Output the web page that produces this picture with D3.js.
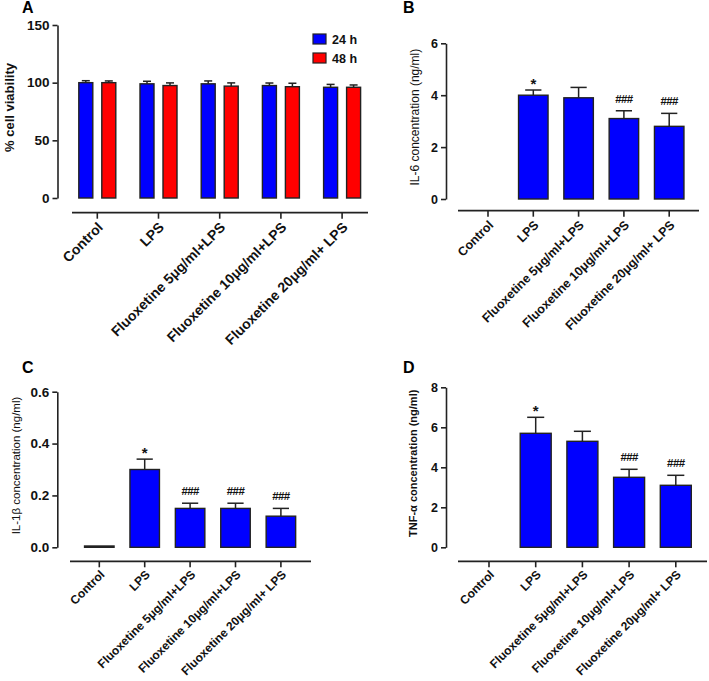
<!DOCTYPE html>
<html>
<head>
<meta charset="utf-8">
<script src="https://cdn.jsdelivr.net/npm/d3@7"></script>
<style>
  body { margin: 0; background: #fff; }
  svg { display: block; font-family: "Liberation Sans", Arial, sans-serif; }
</style>
</head>
<body>
<script>
// data
const categories = ["Control", "LPS", "Fluoxetine 5μg/ml+LPS", "Fluoxetine 10μg/ml+LPS", "Fluoxetine 20μg/ml+ LPS"];
const seriesA = ["24 h", "48 h"];
const viability24 = [100, 99, 99, 97.5, 96];
const viability24Err = [1.7, 2.2, 2.5, 2.2, 2.5];
const viability48 = [100, 97.5, 97, 96.5, 96];
const viability48Err = [1.5, 2.3, 2.8, 3.0, 2.0];
const il6 = [0, 4.0, 3.9, 3.1, 2.8];
const il6Err = [0, 0.2, 0.4, 0.3, 0.5];
const il6Marks = ["", "*", "", "###", "###"];
const il1b = [0.005, 0.30, 0.15, 0.15, 0.12];
const il1bErr = [0, 0.04, 0.02, 0.02, 0.03];
const il1bMarks = ["", "*", "###", "###", "###"];
const tnf = [0, 5.7, 5.3, 3.5, 3.1];
const tnfErr = [0, 0.8, 0.5, 0.4, 0.5];
const tnfMarks = ["", "*", "", "###", "###"];
const ticksA = [0, 50, 100, 150];
const ticksB = [0, 2, 4, 6];
const ticksC = [0, 0.2, 0.4, 0.6];
const ticksD = [0, 2, 4, 6, 8];

const COLORS = {"24 h": "#0000ff", "48 h": "#ff0000"};
const INK = "#222";

const svg = d3.select("body").append("svg")
    .attr("width", 709)
    .attr("height", 681);

svg.append("rect").attr("width", 709).attr("height", 681).attr("fill", "#fff");

const panel = (p) => {
    const g = svg.append("g");
    const x = d3.scaleBand().domain(categories).range(p.xRange);
    const y = d3.scaleLinear().domain([0, d3.max(p.ticks)]).range(p.yRange);

    // panel letter
    g.append("text")
        .attr("x", p.letterPos[0]).attr("y", p.letterPos[1])
        .attr("font-size", 16).attr("font-weight", "bold")
        .text(p.letter);

    // y axis
    const ya = g.append("g")
        .attr("transform", `translate(${p.yAxisX},0)`)
        .call(d3.axisLeft(y).tickValues(p.ticks).tickFormat(p.fmt).tickSize(5).tickSizeOuter(0));
    ya.selectAll("path, line").attr("stroke", INK).attr("stroke-width", 1.6);
    ya.selectAll("text")
        .attr("font-family", null)
        .attr("font-size", p.tickFont)
        .attr("font-weight", "bold")
        .attr("fill", "#111");

    g.append("text")
        .attr("transform", `translate(${p.yTitleX},${(p.yRange[0] + p.yRange[1]) / 2 - 4}) rotate(-90)`)
        .attr("text-anchor", "middle")
        .attr("font-size", p.yTitleFont)
        .attr("font-weight", p.yTitleBold ? "bold" : "normal")
        .attr("fill", "#111")
        .text(p.yTitle);

    // x axis (detached, GraphPad style)
    const xa = g.append("g")
        .attr("transform", `translate(0,${p.xAxisY})`)
        .call(d3.axisBottom(x).tickSize(6).tickSizeOuter(0));
    xa.select(".domain").remove();
    xa.append("line")
        .attr("x1", p.xLine[0]).attr("x2", p.xLine[1])
        .attr("stroke", INK).attr("stroke-width", 1.8);
    xa.selectAll(".tick line").attr("stroke", INK).attr("stroke-width", 1.6);
    xa.selectAll(".tick text")
        .attr("font-family", null)
        .attr("font-size", p.xFont)
        .attr("font-weight", "bold")
        .attr("fill", "#111")
        .attr("text-anchor", "end")
        .attr("y", 0).attr("dy", "0.35em")
        .attr("transform", `translate(3,${p.xLabelDrop}) rotate(-45)`);

    return {g, x, y};
};

const errorBars = (g, cx, y, v, e, cap) => {
    if (!(e > 0)) return;
    g.append("line")
        .attr("x1", cx).attr("x2", cx)
        .attr("y1", y(v)).attr("y2", y(v + e))
        .attr("stroke", INK).attr("stroke-width", 1.5);
    g.append("line")
        .attr("x1", cx - cap / 2).attr("x2", cx + cap / 2)
        .attr("y1", y(v + e)).attr("y2", y(v + e))
        .attr("stroke", INK).attr("stroke-width", 1.5);
};

/**
 * Panel A - grouped viability bars
 */
const drawA = () => {
    const {g, x, y} = panel({
        letter: "A", letterPos: [22, 13],
        ticks: ticksA, fmt: d3.format("d"), tickFont: 13.5,
        xRange: [66.7, 372.7], yRange: [198, 25], yAxisX: 57.5,
        xAxisY: 212.7, xLine: [72, 368], xFont: 14, xLabelDrop: 12,
        yTitle: "% cell viability", yTitleX: 14, yTitleFont: 13, yTitleBold: true
    });
    const sub = d3.scaleBand().domain(seriesA).range([-18.5, 18.5]).paddingInner(9 / 23);
    const rows = [
        {key: "24 h", vals: viability24, errs: viability24Err},
        {key: "48 h", vals: viability48, errs: viability48Err}
    ];
    rows.forEach(r => {
        categories.forEach((c, i) => {
            const cx = x(c) + x.bandwidth() / 2 + sub(r.key);
            g.append("rect")
                .attr("x", cx).attr("y", y(r.vals[i]))
                .attr("width", sub.bandwidth())
                .attr("height", y(0) - y(r.vals[i]))
                .attr("fill", COLORS[r.key])
                .attr("stroke", INK).attr("stroke-width", 1.4);
            errorBars(g, cx + sub.bandwidth() / 2, y, r.vals[i], r.errs[i], 8);
        });
    });

    // legend
    const lg = g.append("g").attr("transform", "translate(313,34)");
    seriesA.forEach((s, i) => {
        lg.append("rect")
            .attr("x", 0).attr("y", i * 19)
            .attr("width", 13).attr("height", 10)
            .attr("fill", COLORS[s]).attr("stroke", INK).attr("stroke-width", 1.2);
        lg.append("text")
            .attr("x", 19).attr("y", i * 19 + 9.5)
            .attr("font-size", 12.5).attr("font-weight", "bold")
            .attr("fill", "#111")
            .text(s);
    });
};

/**
 * Single-series panels B, C, D
 */
const drawSingle = (p, vals, errs, marks) => {
    const {g, x, y} = panel(p);
    const bw = p.barWidth;
    categories.forEach((c, i) => {
        if (!(vals[i] > 0)) return;
        const cx = x(c) + x.bandwidth() / 2;
        g.append("rect")
            .attr("x", cx - bw / 2).attr("y", y(vals[i]))
            .attr("width", bw)
            .attr("height", y(0) - y(vals[i]))
            .attr("fill", "#0000ff")
            .attr("stroke", INK).attr("stroke-width", 1.4);
        errorBars(g, cx, y, vals[i], errs[i], bw * 0.55);
        if (marks[i]) {
            const star = marks[i] === "*";
            g.append("text")
                .attr("x", cx).attr("y", y(vals[i] + errs[i]) - (star ? 1.5 : 8))
                .attr("text-anchor", "middle")
                .attr("font-size", star ? 15 : 11.5)
                .attr("font-weight", "bold")
                .attr("letter-spacing", star ? null : -0.6)
                .attr("fill", "#111")
                .text(marks[i]);
        }
    });
};

drawA();

drawSingle({
    letter: "B", letterPos: [403, 13],
    ticks: ticksB, fmt: d3.format("d"), tickFont: 12.5,
    xRange: [465.35, 691.85], yRange: [199, 43.3], yAxisX: 446,
    xAxisY: 210.7, xLine: [458, 699], xFont: 12.5, xLabelDrop: 12, barWidth: 29.5,
    yTitle: "IL-6 concentration (ng/ml)", yTitleX: 419, yTitleFont: 12, yTitleBold: false
}, il6, il6Err, il6Marks);

drawSingle({
    letter: "C", letterPos: [22, 373],
    ticks: ticksC, fmt: d3.format(".1f"), tickFont: 13.5,
    xRange: [76.6, 303.6], yRange: [547.3, 391.7], yAxisX: 57.3,
    xAxisY: 561.3, xLine: [70, 311], xFont: 12, xLabelDrop: 11, barWidth: 29.5,
    yTitle: "IL-1β concentration (ng/ml)", yTitleX: 20, yTitleFont: 11.5, yTitleBold: false
}, il1b, il1bErr, il1bMarks);

drawSingle({
    letter: "D", letterPos: [403, 373],
    ticks: ticksD, fmt: d3.format("d"), tickFont: 12.5,
    xRange: [465.65, 699.15], yRange: [547.3, 387.3], yAxisX: 446,
    xAxisY: 561.3, xLine: [458, 707], xFont: 12, xLabelDrop: 11, barWidth: 31,
    yTitle: "TNF-α concentration (ng/ml)", yTitleX: 417, yTitleFont: 11, yTitleBold: true
}, tnf, tnfErr, tnfMarks);
</script>
</body>
</html>
